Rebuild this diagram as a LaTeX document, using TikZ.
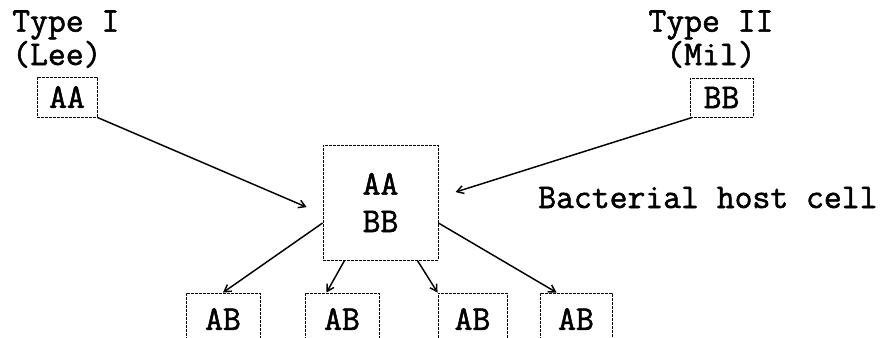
\documentclass[tikz,border=0pt]{standalone}
\usepackage{fontspec}
\setmonofont{Latin Modern Mono}[AutoFakeBold=1.6]
\usetikzlibrary{arrows.meta}
\begin{document}
\begin{tikzpicture}[x=0.75pt,y=-0.75pt,
  txt/.style={font=\ttfamily\bfseries\fontsize{26}{21}\selectfont, inner sep=0pt},
  dbox/.style={draw, dash pattern=on 2pt off 1pt, line width=0.7pt, inner sep=0pt,
     font=\ttfamily\bfseries\fontsize{26}{26}\selectfont, align=center},
  arr/.style={line width=1.1pt, -{Straight Barb[length=5pt,width=6pt]}}]
\useasboundingbox (0,0) rectangle (893,337);
\clip (0,0) rectangle (893,337);
\fill[white] (0,0) rectangle (893,337);
% labels
\node[txt, anchor=base west, align=left] (t1) at (12,65) {Type I\\(Lee)};
\node[txt, anchor=base, align=center] (t2) at (711,65) {Type II\\(Mil)};
\node[txt, anchor=base west] (host) at (538,208) {Bacterial host cell};
% boxes
\node[dbox, minimum width=60*0.75pt, minimum height=40*0.75pt] (aa) at (67,97) {AA};
\node[dbox, minimum width=63*0.75pt, minimum height=39*0.75pt] (bb) at (721.5,97.5) {BB};
\node[dbox, minimum width=115*0.75pt, minimum height=115*0.75pt] (c) at (380.5,202.5) {AA\\[2pt]BB};
\node[dbox, minimum width=74*0.75pt, minimum height=52*0.75pt] (b1) at (223,319) {AB};
\node[dbox, minimum width=74*0.75pt, minimum height=52*0.75pt] (b2) at (342,319) {AB};
\node[dbox, minimum width=69*0.75pt, minimum height=52*0.75pt] (b3) at (472.5,319) {AB};
\node[dbox, minimum width=72*0.75pt, minimum height=52*0.75pt] (b4) at (576,319) {AB};
% arrows
\draw[arr, shorten >=13pt] (aa.south east) -- ([yshift=-8.6pt]c.west);
\draw[arr, shorten >=13.4pt] ([xshift=2pt]bb.south west) -- ([yshift=3.8pt]c.east);
\draw[arr] ([yshift=-15.4pt]c.west) -- (b1.north);
\draw[arr] ([xshift=16.5pt]c.south west) -- ([xshift=16.5pt]b2.north west);
\draw[arr] ([xshift=-15.8pt]c.south east) -- (b3.north west);
\draw[arr] ([yshift=-15.4pt]c.east) -- ([xshift=12.8pt]b4.north west);
\end{tikzpicture}
\end{document}
